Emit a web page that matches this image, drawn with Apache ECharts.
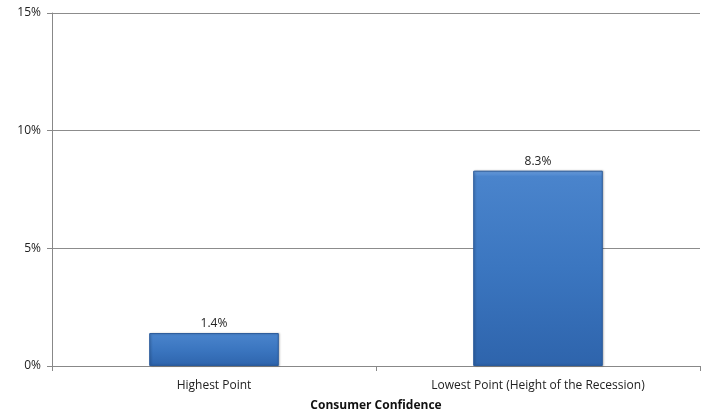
<!DOCTYPE html>
<html><head><meta charset="utf-8">
<script src="https://cdn.jsdelivr.net/npm/echarts@6/dist/echarts.min.js"></script>
<style>html,body{margin:0;padding:0;background:#fff}#c{width:704px;height:414px}</style>
</head><body><div id="c"></div>
<script>
const categories = ["Highest Point", "Lowest Point (Height of the Recession)"];
const values = [1.4, 8.3];
const axisName = "Consumer Confidence";
const yMin = 0, yMax = 15, yStep = 5;

const chart = echarts.init(document.getElementById('c'));
const font = "'Open Sans', 'Liberation Sans', sans-serif";
chart.setOption({
  animation: false,
  grid: { left: 52, right: 4, top: 13, bottom: 48, outerBoundsMode: 'none', containLabel: false },
  xAxis: {
    type: 'category',
    data: categories,
    name: axisName,
    nameLocation: 'middle',
    nameGap: 34,
    nameTextStyle: { fontFamily: font, fontSize: 12, fontWeight: 'bold', color: '#111' },
    axisLine: { lineStyle: { color: '#888' } },
    axisTick: { show: true, length: 5, alignWithLabel: false, lineStyle: { color: '#888' } },
    axisLabel: { fontFamily: font, fontSize: 12, color: '#222', margin: 14 }
  },
  yAxis: {
    type: 'value',
    min: yMin, max: yMax, interval: yStep,
    axisLine: { show: true, lineStyle: { color: '#888' } },
    axisTick: { show: true, length: 5, lineStyle: { color: '#888' } },
    axisLabel: { fontFamily: font, fontSize: 12, color: '#222', margin: 11, formatter: v => v + '%' },
    splitLine: { lineStyle: { color: '#8c8c8c' } }
  },
  series: [{
    type: 'bar',
    data: values,
    barWidth: '40%',
    itemStyle: {
      color: new echarts.graphic.LinearGradient(0, 0, 0, 1, [
        { offset: 0, color: '#6a9ede' },
        { offset: 0.03, color: '#4a84cc' },
        { offset: 0.5, color: '#3b76c0' },
        { offset: 1, color: '#2e64ac' }
      ]),
      borderColor: '#2a5b9c',
      borderWidth: 1,
      shadowColor: 'rgba(0,0,0,0.25)',
      shadowBlur: 2,
      shadowOffsetX: 1
    },
    label: {
      show: true, position: 'top', distance: 3,
      fontFamily: font, fontSize: 12, color: '#222',
      formatter: p => p.value.toFixed(1) + '%'
    }
  }]
});
</script></body></html>
